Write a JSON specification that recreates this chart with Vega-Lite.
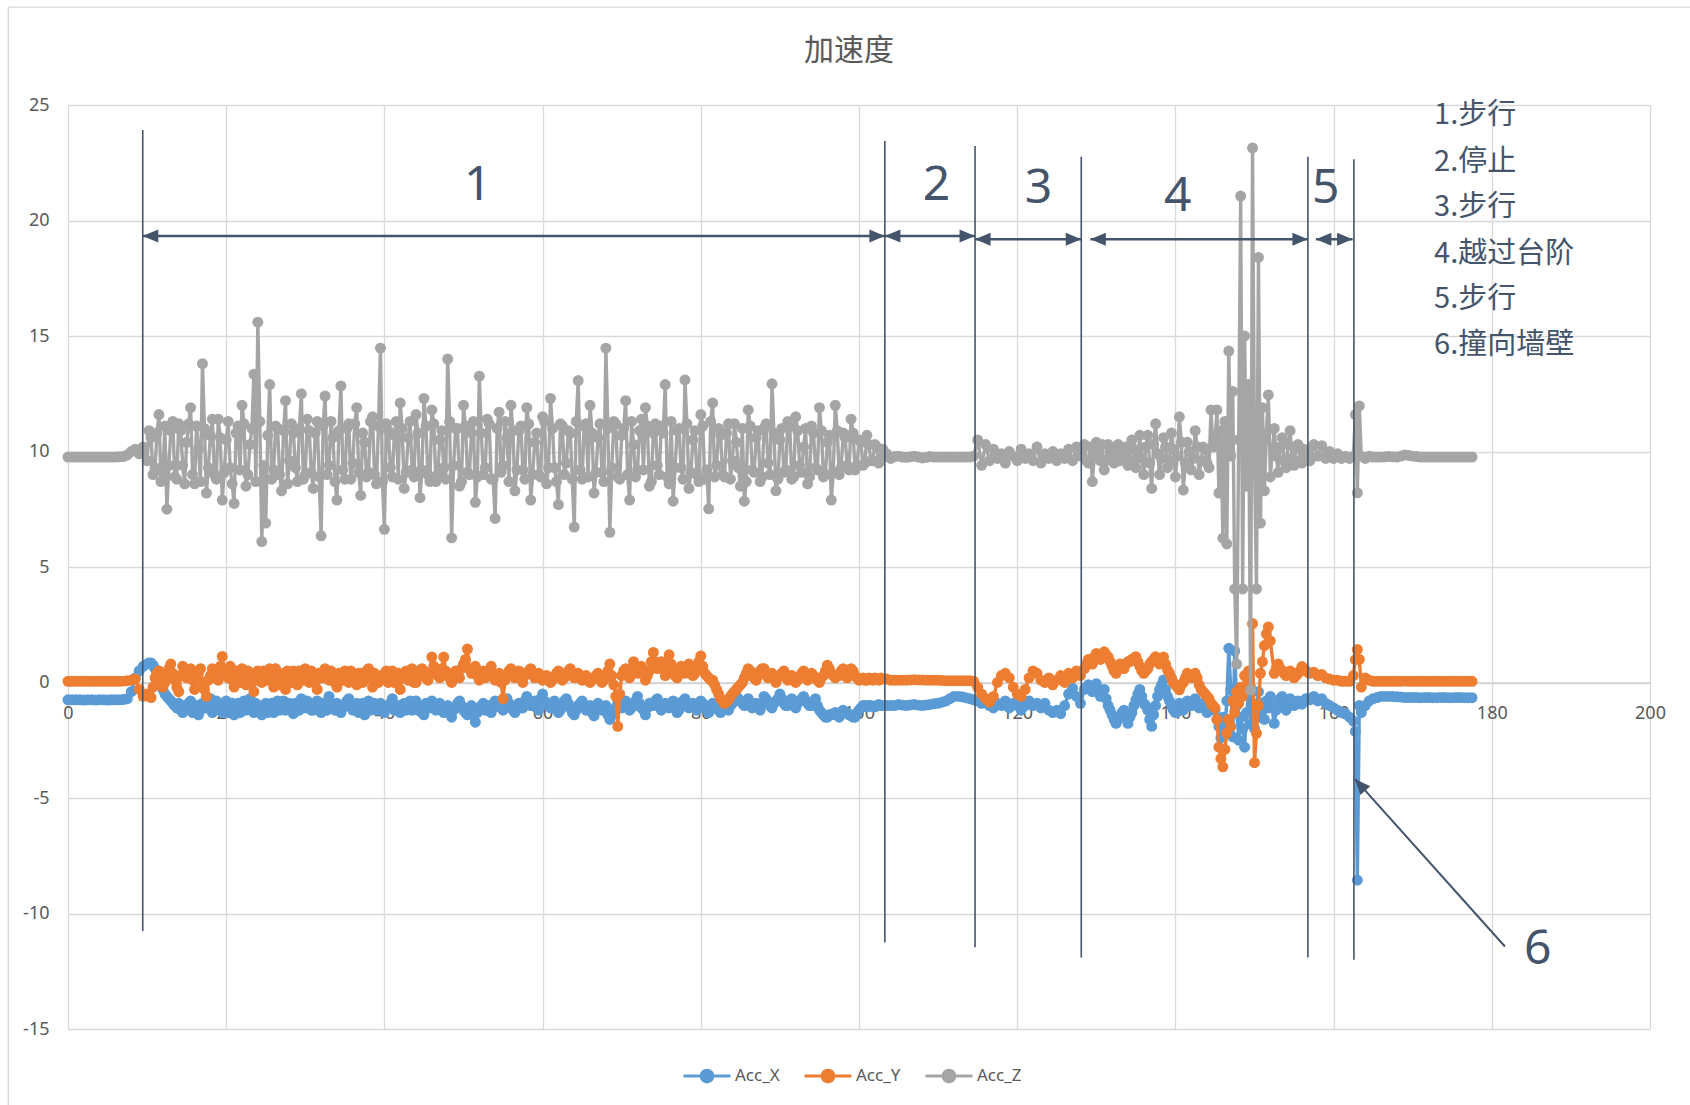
{
"$schema":"https://vega.github.io/schema/vega-lite/v6.json",
"width":1582,"height":924,
"autosize":{"type":"none"},
"padding":{"left":68,"top":105,"right":40,"bottom":76},
"background":"white",
"config":{"view":{"stroke":null},"font":"Noto Sans"},
"title":{"text":"加速度","font":"Noto Sans CJK SC","fontSize":30,"fontWeight":"normal","color":"#595959","anchor":"middle","frame":"group","offset":-60,"dx":-10},
"datasets":{
"acc":[
{"t":0,"X":-0.75,"Y":0.05,"Z":9.76},{"t":1,"X":-0.75,"Y":0.05,"Z":9.76},{"t":2,"X":-0.76,"Y":0.05,"Z":9.76},{"t":3,"X":-0.75,"Y":0.05,"Z":9.76},{"t":4,"X":-0.75,"Y":0.05,"Z":9.76},{"t":5,"X":-0.76,"Y":0.05,"Z":9.76},{"t":6,"X":-0.75,"Y":0.05,"Z":9.76},{"t":7,"X":-0.74,"Y":0.06,"Z":9.78},
{"t":7.5,"X":-0.7,"Y":0.08,"Z":9.85},{"t":8,"X":-0.4,"Y":0.1,"Z":10.0},{"t":8.5,"X":0.2,"Y":0.15,"Z":10.1},{"t":9,"X":0.5,"Y":-0.3,"Z":9.9},{"t":9.5,"X":0.7,"Y":-0.6,"Z":10.2},
{"t":10,"X":0.8,"Y":-0.5,"Z":9.6},{"t":10.5,"X":0.85,"Y":-0.65,"Z":10.6},{"t":11,"X":0.6,"Y":0.2,"Z":9.3},{"t":11.5,"X":0.1,"Y":0.5,"Z":11.6},{"t":12,"X":-0.3,"Y":-0.2,"Z":9.1},{"t":12.5,"X":-0.6,"Y":0.3,"Z":7.5},{"t":13,"X":-0.8,"Y":0.8,"Z":10.9},{"t":13.5,"X":-1.0,"Y":0.1,"Z":8.9},{"t":14,"X":-0.9,"Y":-0.4,"Z":11.2},{"t":14.5,"X":-1.3,"Y":0.7,"Z":9.4},
{"t":15,"X":-1.1,"Y":0.2,"Z":10.4},{"t":15.5,"X":-0.8,"Y":0.6,"Z":11.9},{"t":16,"X":-1.2,"Y":-0.3,"Z":8.6},{"t":16.5,"X":-1.4,"Y":0.4,"Z":10.1},{"t":17,"X":-0.9,"Y":0.0,"Z":13.8},{"t":17.5,"X":-1.1,"Y":-0.6,"Z":8.2},{"t":18,"X":-0.7,"Y":0.3,"Z":10.7},{"t":18.5,"X":-1.2,"Y":0.5,"Z":9.0},{"t":19,"X":-1.0,"Y":0.1,"Z":11.4},{"t":19.5,"X":-1.3,"Y":1.13,"Z":7.9},
{"t":20,"X":-0.8,"Y":0.4,"Z":10.5},{"t":20.5,"X":-1.1,"Y":0.7,"Z":9.3},{"t":21,"X":-1.4,"Y":-0.2,"Z":7.75},{"t":21.5,"X":-0.9,"Y":0.3,"Z":11.1},{"t":22,"X":-1.0,"Y":0.6,"Z":12.0},{"t":22.5,"X":-1.2,"Y":-0.1,"Z":8.5},{"t":23,"X":-0.7,"Y":0.2,"Z":10.3},{"t":23.5,"X":-1.3,"Y":-0.4,"Z":13.35},{"t":24,"X":-1.0,"Y":0.5,"Z":15.6},{"t":24.5,"X":-1.4,"Y":0.0,"Z":6.1},
{"t":25,"X":-0.9,"Y":0.3,"Z":6.9},{"t":25.5,"X":-1.1,"Y":0.6,"Z":12.9},{"t":26,"X":-1.3,"Y":-0.2,"Z":9.2},{"t":26.5,"X":-0.8,"Y":0.4,"Z":11.0},{"t":27,"X":-1.0,"Y":0.1,"Z":8.3},{"t":27.5,"X":-1.2,"Y":-0.3,"Z":12.2},{"t":28,"X":-0.9,"Y":0.2,"Z":9.6},{"t":28.5,"X":-1.35,"Y":0.5,"Z":10.8},{"t":29,"X":-1.0,"Y":-0.1,"Z":8.7},{"t":29.5,"X":-0.7,"Y":0.3,"Z":12.5},
{"t":30,"X":-1.1,"Y":0.6,"Z":9.0},{"t":30.5,"X":-0.9,"Y":0.0,"Z":10.9},{"t":31,"X":-1.2,"Y":0.4,"Z":8.4},{"t":31.5,"X":-0.8,"Y":-0.3,"Z":11.3},{"t":32,"X":-1.3,"Y":0.2,"Z":6.35},{"t":32.5,"X":-1.0,"Y":0.6,"Z":12.4},{"t":33,"X":-0.6,"Y":0.1,"Z":9.4},{"t":33.5,"X":-1.1,"Y":0.4,"Z":10.6},{"t":34,"X":-0.9,"Y":-0.2,"Z":7.9},{"t":34.5,"X":-1.3,"Y":0.3,"Z":12.84},
{"t":35,"X":-1.0,"Y":0.5,"Z":8.8},{"t":35.5,"X":-0.7,"Y":0.0,"Z":11.2},{"t":36,"X":-1.2,"Y":0.3,"Z":9.5},{"t":36.5,"X":-0.9,"Y":-0.1,"Z":11.9},{"t":37,"X":-1.1,"Y":0.4,"Z":8.1},{"t":37.5,"X":-1.4,"Y":0.2,"Z":10.4},{"t":38,"X":-0.8,"Y":0.6,"Z":9.1},{"t":38.5,"X":-1.0,"Y":-0.2,"Z":11.5},{"t":39,"X":-1.2,"Y":0.3,"Z":8.6},{"t":39.5,"X":-0.9,"Y":0.1,"Z":14.47},
{"t":40,"X":-1.3,"Y":0.4,"Z":6.63},{"t":40.5,"X":-1.0,"Y":0.0,"Z":10.9},{"t":41,"X":-0.7,"Y":0.5,"Z":8.9},{"t":41.5,"X":-1.1,"Y":0.2,"Z":11.3},{"t":42,"X":-1.3,"Y":-0.3,"Z":12.1},{"t":42.5,"X":-0.9,"Y":0.4,"Z":8.4},{"t":43,"X":-1.0,"Y":0.1,"Z":10.6},{"t":43.5,"X":-1.2,"Y":0.6,"Z":9.2},{"t":44,"X":-0.8,"Y":0.0,"Z":11.6},{"t":44.5,"X":-1.1,"Y":0.3,"Z":8.0},
{"t":45,"X":-1.4,"Y":0.5,"Z":12.3},{"t":45.5,"X":-1.0,"Y":0.1,"Z":9.0},{"t":46,"X":-0.8,"Y":1.1,"Z":11.8},{"t":46.5,"X":-1.2,"Y":0.6,"Z":8.7},{"t":47,"X":-0.9,"Y":0.2,"Z":10.5},{"t":47.5,"X":-1.3,"Y":1.1,"Z":9.3},{"t":48,"X":-1.0,"Y":0.4,"Z":14.0},{"t":48.5,"X":-1.5,"Y":0.0,"Z":6.26},{"t":49,"X":-1.1,"Y":0.5,"Z":11.0},{"t":49.5,"X":-0.8,"Y":0.2,"Z":8.5},
{"t":50,"X":-1.2,"Y":0.8,"Z":12.0},{"t":50.5,"X":-1.4,"Y":1.45,"Z":9.1},{"t":51,"X":-1.0,"Y":0.4,"Z":10.8},{"t":51.5,"X":-1.72,"Y":0.7,"Z":7.8},{"t":52,"X":-1.2,"Y":0.1,"Z":13.26},{"t":52.5,"X":-0.9,"Y":0.5,"Z":9.0},{"t":53,"X":-1.1,"Y":0.3,"Z":11.4},{"t":53.5,"X":-1.3,"Y":0.7,"Z":8.8},{"t":54,"X":-0.8,"Y":0.1,"Z":7.1},{"t":54.5,"X":-1.0,"Y":0.4,"Z":11.7},
{"t":55,"X":-1.2,"Y":-0.7,"Z":9.4},{"t":55.5,"X":-0.7,"Y":0.3,"Z":10.6},{"t":56,"X":-1.0,"Y":0.6,"Z":12.0},{"t":56.5,"X":-1.3,"Y":0.2,"Z":8.3},{"t":57,"X":-0.9,"Y":0.5,"Z":10.9},{"t":57.5,"X":-1.1,"Y":0.0,"Z":9.2},{"t":58,"X":-0.6,"Y":0.4,"Z":11.9},{"t":58.5,"X":-1.0,"Y":0.6,"Z":7.9},{"t":59,"X":-0.8,"Y":0.2,"Z":10.4},{"t":59.5,"X":-1.2,"Y":0.4,"Z":9.0},
{"t":60,"X":-0.5,"Y":0.1,"Z":11.5},{"t":60.5,"X":-0.9,"Y":0.3,"Z":8.6},{"t":61,"X":-1.1,"Y":0.0,"Z":12.3},{"t":61.5,"X":-0.8,"Y":0.2,"Z":9.3},{"t":62,"X":-1.3,"Y":0.5,"Z":7.7},{"t":62.5,"X":-1.0,"Y":0.1,"Z":11.1},{"t":63,"X":-0.7,"Y":0.3,"Z":9.5},{"t":63.5,"X":-1.1,"Y":0.6,"Z":10.8},{"t":64,"X":-1.4,"Y":0.2,"Z":6.73},{"t":64.5,"X":-1.0,"Y":0.4,"Z":13.07},
{"t":65,"X":-0.8,"Y":0.1,"Z":8.8},{"t":65.5,"X":-1.2,"Y":0.3,"Z":11.2},{"t":66,"X":-1.0,"Y":0.0,"Z":12.0},{"t":66.5,"X":-1.45,"Y":0.2,"Z":8.2},{"t":67,"X":-0.9,"Y":0.4,"Z":10.6},{"t":67.5,"X":-1.2,"Y":0.0,"Z":9.1},{"t":68,"X":-1.0,"Y":0.2,"Z":14.47},{"t":68.5,"X":-1.6,"Y":0.8,"Z":6.5},{"t":69,"X":-1.3,"Y":-0.1,"Z":11.3},{"t":69.5,"X":-0.9,"Y":-1.9,"Z":8.9},
{"t":70,"X":-1.1,"Y":0.3,"Z":10.7},{"t":70.5,"X":-0.8,"Y":0.6,"Z":12.2},{"t":71,"X":-1.2,"Y":0.2,"Z":7.9},{"t":71.5,"X":-1.0,"Y":0.9,"Z":10.3},{"t":72,"X":-0.6,"Y":0.4,"Z":9.2},{"t":72.5,"X":-1.1,"Y":0.7,"Z":11.4},{"t":73,"X":-1.4,"Y":0.1,"Z":11.9},{"t":73.5,"X":-0.9,"Y":0.5,"Z":8.5},{"t":74,"X":-1.0,"Y":1.3,"Z":10.8},{"t":74.5,"X":-0.7,"Y":0.6,"Z":9.4},
{"t":75,"X":-1.2,"Y":0.9,"Z":11.1},{"t":75.5,"X":-0.9,"Y":0.3,"Z":12.9},{"t":76,"X":-1.1,"Y":1.2,"Z":8.6},{"t":76.5,"X":-0.8,"Y":0.5,"Z":7.85},{"t":77,"X":-1.3,"Y":0.2,"Z":10.9},{"t":77.5,"X":-1.0,"Y":0.7,"Z":9.3},{"t":78,"X":-0.7,"Y":0.4,"Z":13.1},{"t":78.5,"X":-1.1,"Y":0.8,"Z":8.4},{"t":79,"X":-0.9,"Y":0.3,"Z":10.5},{"t":79.5,"X":-1.2,"Y":0.6,"Z":9.0},
{"t":80,"X":-0.8,"Y":1.15,"Z":11.6},{"t":80.5,"X":-1.0,"Y":0.4,"Z":8.8},{"t":81,"X":-1.3,"Y":0.2,"Z":7.52},{"t":81.5,"X":-0.9,"Y":0.1,"Z":12.1},{"t":82,"X":-1.1,"Y":-0.3,"Z":9.4},{"t":82.5,"X":-1.3,"Y":-0.7,"Z":10.7},{"t":83,"X":-1.0,"Y":-0.9,"Z":8.9},{"t":83.5,"X":-1.2,"Y":-0.75,"Z":11.2},{"t":84,"X":-0.9,"Y":-0.5,"Z":9.6},{"t":84.5,"X":-0.6,"Y":-0.3,"Z":10.4},
{"t":85,"X":-0.8,"Y":-0.1,"Z":8.5},{"t":85.5,"X":-1.0,"Y":0.2,"Z":7.85},{"t":86,"X":-0.7,"Y":0.6,"Z":11.8},{"t":86.5,"X":-1.1,"Y":0.3,"Z":9.2},{"t":87,"X":-0.9,"Y":0.1,"Z":10.6},{"t":87.5,"X":-1.2,"Y":0.5,"Z":8.7},{"t":88,"X":-0.6,"Y":0.6,"Z":11.0},{"t":88.5,"X":-0.9,"Y":0.2,"Z":9.5},{"t":89,"X":-1.1,"Y":0.4,"Z":12.93},{"t":89.5,"X":-0.8,"Y":0.0,"Z":8.3},
{"t":90,"X":-0.5,"Y":0.3,"Z":10.5},{"t":90.5,"X":-0.9,"Y":0.5,"Z":9.1},{"t":91,"X":-1.0,"Y":0.1,"Z":11.3},{"t":91.5,"X":-0.7,"Y":0.3,"Z":8.8},{"t":92,"X":-1.1,"Y":0.0,"Z":11.5},{"t":92.5,"X":-0.8,"Y":0.2,"Z":9.4},{"t":93,"X":-0.6,"Y":0.5,"Z":10.2},{"t":93.5,"X":-0.9,"Y":0.1,"Z":8.6},{"t":94,"X":-1.0,"Y":0.4,"Z":11.1},{"t":94.5,"X":-0.7,"Y":0.2,"Z":9.3},
{"t":95,"X":-1.2,"Y":0.0,"Z":11.9},{"t":95.5,"X":-1.4,"Y":0.3,"Z":8.9},{"t":96,"X":-1.5,"Y":0.75,"Z":10.4},{"t":96.5,"X":-1.4,"Y":0.4,"Z":7.9},{"t":97,"X":-1.3,"Y":0.2,"Z":12.0},{"t":97.5,"X":-1.5,"Y":0.3,"Z":9.0},{"t":98,"X":-1.2,"Y":0.6,"Z":10.8},{"t":98.5,"X":-1.3,"Y":0.2,"Z":9.4},{"t":99,"X":-1.45,"Y":0.6,"Z":11.4},{"t":99.5,"X":-1.5,"Y":0.3,"Z":9.2},
{"t":100,"X":-1.2,"Y":0.1,"Z":10.5},{"t":100.5,"X":-1.0,"Y":0.2,"Z":9.4},{"t":101,"X":-1.05,"Y":0.1,"Z":10.7},{"t":101.5,"X":-1.0,"Y":0.15,"Z":9.6},{"t":102,"X":-1.05,"Y":0.2,"Z":10.3},{"t":102.5,"X":-0.95,"Y":0.1,"Z":9.5},{"t":103,"X":-1.0,"Y":0.15,"Z":10.1},
{"t":103.5,"X":-1.0,"Y":0.15,"Z":9.9},{"t":104,"X":-1.0,"Y":0.1,"Z":9.7},{"t":105,"X":-0.95,"Y":0.1,"Z":9.8},{"t":106,"X":-1.0,"Y":0.1,"Z":9.75},{"t":107,"X":-0.95,"Y":0.12,"Z":9.8},{"t":108,"X":-1.0,"Y":0.11,"Z":9.72},{"t":109,"X":-0.95,"Y":0.1,"Z":9.78},{"t":110,"X":-0.9,"Y":0.1,"Z":9.76},{"t":111,"X":-0.8,"Y":0.08,"Z":9.76},{"t":112,"X":-0.6,"Y":0.08,"Z":9.76},{"t":113,"X":-0.62,"Y":0.08,"Z":9.76},{"t":114,"X":-0.7,"Y":0.08,"Z":9.76},{"t":114.5,"X":-0.75,"Y":0.05,"Z":9.8},
{"t":115,"X":-0.8,"Y":-0.2,"Z":10.5},{"t":115.5,"X":-0.9,"Y":-0.5,"Z":9.4},{"t":116,"X":-0.7,"Y":-0.7,"Z":10.3},{"t":116.5,"X":-1.0,"Y":-0.85,"Z":9.6},{"t":117,"X":-1.1,"Y":-0.6,"Z":10.1},{"t":117.5,"X":-0.9,"Y":0.0,"Z":9.7},{"t":118,"X":-1.0,"Y":0.3,"Z":9.9},{"t":118.5,"X":-0.8,"Y":0.4,"Z":9.5},{"t":119,"X":-1.1,"Y":0.2,"Z":10.0},{"t":119.5,"X":-0.9,"Y":-0.2,"Z":9.8},
{"t":120,"X":-1.0,"Y":-0.5,"Z":9.6},{"t":120.5,"X":-1.2,"Y":-0.6,"Z":10.1},{"t":121,"X":-1.0,"Y":-0.3,"Z":9.7},{"t":121.5,"X":-0.8,"Y":0.2,"Z":9.9},{"t":122,"X":-1.0,"Y":0.5,"Z":9.6},{"t":122.5,"X":-0.9,"Y":0.4,"Z":10.2},{"t":123,"X":-1.1,"Y":0.1,"Z":9.5},{"t":123.5,"X":-0.9,"Y":0.0,"Z":9.9},{"t":124,"X":-1.2,"Y":0.2,"Z":9.7},{"t":124.5,"X":-1.3,"Y":-0.1,"Z":10.0},
{"t":125,"X":-1.2,"Y":0.1,"Z":9.6},{"t":125.5,"X":-1.35,"Y":0.3,"Z":9.9},{"t":126,"X":-1.0,"Y":0.0,"Z":9.7},{"t":126.5,"X":-0.5,"Y":0.4,"Z":10.1},{"t":127,"X":-0.25,"Y":0.2,"Z":9.6},{"t":127.5,"X":-0.6,"Y":0.5,"Z":10.2},{"t":128,"X":-0.9,"Y":0.3,"Z":9.8},
{"t":128.5,"X":-0.3,"Y":0.6,"Z":10.3},{"t":129,"X":-0.1,"Y":1.0,"Z":9.5},{"t":129.5,"X":-0.4,"Y":0.8,"Z":8.7},{"t":130,"X":-0.05,"Y":1.26,"Z":10.4},{"t":130.5,"X":-0.6,"Y":1.0,"Z":9.6},{"t":131,"X":-0.3,"Y":1.33,"Z":9.2},{"t":131.5,"X":-1.0,"Y":1.1,"Z":10.3},{"t":132,"X":-1.4,"Y":0.7,"Z":9.7},{"t":132.5,"X":-1.77,"Y":0.4,"Z":10.1},{"t":133,"X":-1.5,"Y":0.8,"Z":9.6},
{"t":133.5,"X":-1.2,"Y":0.6,"Z":9.9},{"t":134,"X":-1.77,"Y":0.9,"Z":9.4},{"t":134.5,"X":-1.3,"Y":1.0,"Z":10.5},{"t":135,"X":-0.75,"Y":1.12,"Z":9.3},{"t":135.5,"X":-0.3,"Y":0.7,"Z":10.7},{"t":136,"X":-0.9,"Y":0.4,"Z":9.0},{"t":136.5,"X":-1.2,"Y":0.6,"Z":10.7},{"t":137,"X":-1.9,"Y":0.9,"Z":8.4},{"t":137.5,"X":-1.0,"Y":1.12,"Z":11.2},{"t":138,"X":-0.3,"Y":0.8,"Z":9.0},
{"t":138.5,"X":0.11,"Y":1.1,"Z":10.6},{"t":139,"X":-0.6,"Y":0.55,"Z":9.3},{"t":139.5,"X":-1.0,"Y":0.2,"Z":10.8},{"t":140,"X":-1.3,"Y":-0.1,"Z":8.9},{"t":140.5,"X":-0.9,"Y":-0.32,"Z":11.5},{"t":141,"X":-1.2,"Y":0.0,"Z":8.33},{"t":141.5,"X":-0.8,"Y":0.4,"Z":10.4},{"t":142,"X":-1.0,"Y":0.2,"Z":9.2},{"t":142.5,"X":-0.7,"Y":0.4,"Z":10.9},{"t":143,"X":-1.1,"Y":-0.1,"Z":9.0},
{"t":143.5,"X":-0.9,"Y":-0.4,"Z":10.2},{"t":144,"X":-1.3,"Y":-0.6,"Z":9.5},{"t":144.5,"X":-1.0,"Y":-0.9,"Z":11.8},
{"t":145,"X":-1.2,"Y":-1.1,"Z":10.4},{"t":145.25,"X":-1.6,"Y":-1.6,"Z":11.8},{"t":145.5,"X":-1.9,"Y":-2.8,"Z":8.2},{"t":145.75,"X":-2.4,"Y":-3.3,"Z":10.9},{"t":146,"X":-1.5,"Y":-3.65,"Z":6.25},{"t":146.25,"X":-2.1,"Y":-2.9,"Z":11.3},{"t":146.5,"X":-0.8,"Y":-2.2,"Z":6.0},{"t":146.75,"X":1.48,"Y":-1.6,"Z":14.35},{"t":147,"X":-0.3,"Y":-1.9,"Z":9.8},{"t":147.25,"X":-2.35,"Y":-0.8,"Z":12.6},
{"t":147.5,"X":1.36,"Y":-1.3,"Z":4.05},{"t":147.75,"X":-1.0,"Y":-0.4,"Z":0.8},{"t":148,"X":-2.5,"Y":-0.9,"Z":10.5},{"t":148.25,"X":-1.5,"Y":-0.2,"Z":21.06},{"t":148.5,"X":-2.0,"Y":-0.6,"Z":4.05},{"t":148.75,"X":-2.8,"Y":0.3,"Z":15.0},{"t":149,"X":-1.3,"Y":-0.3,"Z":8.5},{"t":149.25,"X":-0.5,"Y":0.5,"Z":12.9},{"t":149.5,"X":-1.8,"Y":-0.2,"Z":-0.32},{"t":149.75,"X":-0.9,"Y":2.55,"Z":23.14},
{"t":150,"X":-2.0,"Y":-3.47,"Z":9.6},{"t":150.25,"X":-1.2,"Y":-2.2,"Z":4.05},{"t":150.5,"X":-0.4,"Y":-1.0,"Z":18.4},{"t":150.75,"X":-1.5,"Y":0.4,"Z":6.9},{"t":151,"X":-0.9,"Y":0.9,"Z":11.9},{"t":151.25,"X":-1.6,"Y":1.6,"Z":8.3},{"t":151.5,"X":-0.8,"Y":2.1,"Z":10.8},{"t":151.75,"X":-1.1,"Y":2.4,"Z":12.45},{"t":152,"X":-0.6,"Y":1.8,"Z":8.9},
{"t":152.5,"X":-1.77,"Y":0.4,"Z":11.0},{"t":153,"X":-0.9,"Y":0.8,"Z":9.1},{"t":153.5,"X":-0.6,"Y":0.5,"Z":10.6},{"t":154,"X":-1.2,"Y":0.3,"Z":9.3},{"t":154.5,"X":-0.7,"Y":0.5,"Z":10.9},{"t":155,"X":-1.0,"Y":0.2,"Z":9.4},{"t":155.5,"X":-0.8,"Y":0.4,"Z":10.3},{"t":156,"X":-0.94,"Y":0.69,"Z":9.5},{"t":156.5,"X":-0.7,"Y":0.5,"Z":10.0},{"t":157,"X":-0.75,"Y":0.4,"Z":9.6},
{"t":157.5,"X":-0.6,"Y":0.45,"Z":10.3},{"t":158,"X":-0.8,"Y":0.3,"Z":9.8},{"t":158.5,"X":-0.7,"Y":0.35,"Z":10.25},{"t":159,"X":-0.9,"Y":0.2,"Z":9.7},{"t":159.5,"X":-1.0,"Y":0.15,"Z":10.0},{"t":160,"X":-1.1,"Y":0.1,"Z":9.7},{"t":160.5,"X":-1.2,"Y":0.1,"Z":9.9},{"t":161,"X":-1.3,"Y":0.05,"Z":9.7},{"t":161.5,"X":-1.35,"Y":0.05,"Z":9.8},{"t":162,"X":-1.5,"Y":0.05,"Z":9.7},
{"t":162.5,"X":-1.67,"Y":0.3,"Z":9.8},{"t":162.75,"X":-2.12,"Y":0.99,"Z":11.6},{"t":163,"X":-8.56,"Y":1.43,"Z":8.21},{"t":163.25,"X":-1.0,"Y":1.0,"Z":11.97},{"t":163.5,"X":-1.3,"Y":-0.2,"Z":9.8},{"t":164,"X":-1.0,"Y":0.2,"Z":9.7},{"t":164.5,"X":-0.8,"Y":0.1,"Z":9.8},{"t":165,"X":-0.7,"Y":0.05,"Z":9.76},{"t":165.5,"X":-0.65,"Y":0.05,"Z":9.76},
{"t":166,"X":-0.6,"Y":0.05,"Z":9.76},{"t":167,"X":-0.6,"Y":0.05,"Z":9.78},{"t":168,"X":-0.62,"Y":0.05,"Z":9.76},{"t":169,"X":-0.65,"Y":0.06,"Z":9.85},{"t":170,"X":-0.65,"Y":0.05,"Z":9.8},{"t":171,"X":-0.66,"Y":0.05,"Z":9.76},{"t":172,"X":-0.65,"Y":0.05,"Z":9.76},{"t":173,"X":-0.66,"Y":0.05,"Z":9.76},{"t":174,"X":-0.65,"Y":0.05,"Z":9.76},{"t":175,"X":-0.66,"Y":0.05,"Z":9.76},{"t":176,"X":-0.65,"Y":0.05,"Z":9.76},{"t":177,"X":-0.66,"Y":0.05,"Z":9.76},{"t":177.5,"X":-0.66,"Y":0.05,"Z":9.76},
{"t":0.5,"X":-0.75,"Y":0.05,"Z":9.76},{"t":1.5,"X":-0.75,"Y":0.05,"Z":9.76},{"t":2.5,"X":-0.75,"Y":0.05,"Z":9.76},{"t":3.5,"X":-0.76,"Y":0.05,"Z":9.76},{"t":4.5,"X":-0.75,"Y":0.05,"Z":9.76},{"t":5.5,"X":-0.75,"Y":0.05,"Z":9.76},{"t":6.5,"X":-0.75,"Y":0.05,"Z":9.77},
{"t":104.5,"X":-1.0,"Y":0.1,"Z":9.78},{"t":105.5,"X":-0.98,"Y":0.1,"Z":9.76},{"t":106.5,"X":-0.97,"Y":0.11,"Z":9.77},{"t":107.5,"X":-0.98,"Y":0.11,"Z":9.76},{"t":108.5,"X":-0.97,"Y":0.1,"Z":9.75},{"t":109.5,"X":-0.92,"Y":0.1,"Z":9.76},{"t":110.5,"X":-0.85,"Y":0.09,"Z":9.76},{"t":111.5,"X":-0.7,"Y":0.08,"Z":9.76},{"t":112.5,"X":-0.6,"Y":0.08,"Z":9.76},{"t":113.5,"X":-0.66,"Y":0.08,"Z":9.76},
{"t":166.5,"X":-0.6,"Y":0.05,"Z":9.77},{"t":167.5,"X":-0.61,"Y":0.05,"Z":9.77},{"t":168.5,"X":-0.63,"Y":0.05,"Z":9.8},{"t":169.5,"X":-0.65,"Y":0.05,"Z":9.83},{"t":170.5,"X":-0.65,"Y":0.05,"Z":9.78},{"t":171.5,"X":-0.65,"Y":0.05,"Z":9.76},{"t":172.5,"X":-0.66,"Y":0.05,"Z":9.76},{"t":173.5,"X":-0.65,"Y":0.05,"Z":9.76},{"t":174.5,"X":-0.66,"Y":0.05,"Z":9.76},{"t":175.5,"X":-0.65,"Y":0.05,"Z":9.76},{"t":176.5,"X":-0.66,"Y":0.05,"Z":9.76},
{"t":10.25,"X":0.85,"Y":-0.6,"Z":10.9},{"t":10.75,"X":0.75,"Y":-0.2,"Z":9.0},{"t":11.25,"X":0.35,"Y":0.4,"Z":10.8},{"t":11.75,"X":-0.1,"Y":0.1,"Z":8.7},{"t":12.25,"X":-0.5,"Y":0.0,"Z":11.1},{"t":12.75,"X":-0.7,"Y":0.6,"Z":9.4},{"t":13.25,"X":-0.9,"Y":0.4,"Z":11.3},{"t":13.75,"X":-1.1,"Y":-0.2,"Z":8.8},{"t":14.25,"X":-1.2,"Y":0.3,"Z":10.9},{"t":14.75,"X":-1.0,"Y":0.5,"Z":8.6},
{"t":15.25,"X":-0.9,"Y":0.4,"Z":11.2},{"t":15.75,"X":-1.3,"Y":0.1,"Z":9.0},{"t":16.25,"X":-1.0,"Y":0.2,"Z":11.1},{"t":16.75,"X":-1.2,"Y":0.6,"Z":8.7},{"t":17.25,"X":-1.0,"Y":-0.3,"Z":11.0},{"t":17.75,"X":-0.9,"Y":0.1,"Z":9.3},{"t":18.25,"X":-1.3,"Y":0.6,"Z":11.4},{"t":18.75,"X":-0.8,"Y":0.2,"Z":8.8},{"t":19.25,"X":-1.1,"Y":0.7,"Z":10.6},{"t":19.75,"X":-1.0,"Y":0.6,"Z":9.1},
{"t":20.25,"X":-1.3,"Y":0.2,"Z":11.3},{"t":20.75,"X":-0.9,"Y":0.1,"Z":8.6},{"t":21.25,"X":-1.2,"Y":0.5,"Z":10.8},{"t":21.75,"X":-1.3,"Y":0.0,"Z":9.2},{"t":22.25,"X":-0.8,"Y":0.4,"Z":11.2},{"t":22.75,"X":-1.0,"Y":0.5,"Z":9.0},{"t":23.25,"X":-1.2,"Y":0.0,"Z":11.0},{"t":23.75,"X":-0.9,"Y":0.2,"Z":8.7},{"t":24.25,"X":-1.2,"Y":0.3,"Z":11.3},{"t":24.75,"X":-1.1,"Y":0.5,"Z":9.4},
{"t":25.25,"X":-1.3,"Y":0.1,"Z":10.7},{"t":25.75,"X":-0.9,"Y":0.3,"Z":8.8},{"t":26.25,"X":-1.1,"Y":0.6,"Z":11.1},{"t":26.75,"X":-1.2,"Y":-0.1,"Z":9.0},{"t":27.25,"X":-0.8,"Y":0.4,"Z":10.9},{"t":27.75,"X":-1.1,"Y":0.5,"Z":8.6},{"t":28.25,"X":-1.2,"Y":0.0,"Z":11.2},{"t":28.75,"X":-0.9,"Y":0.2,"Z":9.3},{"t":29.25,"X":-1.2,"Y":0.5,"Z":11.0},{"t":29.75,"X":-1.0,"Y":0.1,"Z":8.8},
{"t":30.25,"X":-0.8,"Y":0.3,"Z":11.4},{"t":30.75,"X":-1.2,"Y":0.5,"Z":9.1},{"t":31.25,"X":-1.0,"Y":0.0,"Z":10.8},{"t":31.75,"X":-1.1,"Y":0.4,"Z":8.9},{"t":32.25,"X":-0.9,"Y":0.2,"Z":11.1},{"t":32.75,"X":-1.2,"Y":0.3,"Z":9.0},{"t":33.25,"X":-0.9,"Y":0.5,"Z":11.3},{"t":33.75,"X":-1.2,"Y":0.0,"Z":8.7},{"t":34.25,"X":-1.0,"Y":0.4,"Z":10.9},{"t":34.75,"X":-1.1,"Y":0.1,"Z":9.2},
{"t":35.25,"X":-0.8,"Y":0.3,"Z":11.0},{"t":35.75,"X":-1.0,"Y":0.5,"Z":8.8},{"t":36.25,"X":-1.1,"Y":0.1,"Z":11.2},{"t":36.75,"X":-1.3,"Y":0.4,"Z":9.1},{"t":37.25,"X":-0.9,"Y":0.0,"Z":10.8},{"t":37.75,"X":-1.1,"Y":0.5,"Z":8.9},{"t":38.25,"X":-1.2,"Y":0.2,"Z":11.3},{"t":38.75,"X":-0.9,"Y":0.4,"Z":9.0},{"t":39.25,"X":-1.1,"Y":0.0,"Z":11.1},{"t":39.75,"X":-1.0,"Y":0.3,"Z":8.7},
{"t":40.25,"X":-1.1,"Y":0.5,"Z":11.2},{"t":40.75,"X":-0.9,"Y":0.2,"Z":9.3},{"t":41.25,"X":-1.2,"Y":0.0,"Z":10.7},{"t":41.75,"X":-1.0,"Y":0.4,"Z":8.8},{"t":42.25,"X":-1.1,"Y":0.2,"Z":11.0},{"t":42.75,"X":-1.2,"Y":0.5,"Z":9.1},{"t":43.25,"X":-0.8,"Y":0.3,"Z":11.3},{"t":43.75,"X":-1.0,"Y":0.0,"Z":8.9},{"t":44.25,"X":-1.2,"Y":0.4,"Z":10.8},{"t":44.75,"X":-1.3,"Y":0.6,"Z":9.2},
{"t":45.25,"X":-0.9,"Y":0.2,"Z":11.1},{"t":45.75,"X":-1.1,"Y":0.4,"Z":8.7},{"t":46.25,"X":-1.0,"Y":0.7,"Z":11.2},{"t":46.75,"X":-1.1,"Y":0.3,"Z":9.0},{"t":47.25,"X":-1.2,"Y":0.6,"Z":10.9},{"t":47.75,"X":-1.1,"Y":0.5,"Z":8.8},{"t":48.25,"X":-1.3,"Y":0.2,"Z":11.3},{"t":48.75,"X":-1.2,"Y":0.4,"Z":9.4},{"t":49.25,"X":-0.9,"Y":0.3,"Z":11.0},{"t":49.75,"X":-1.0,"Y":0.6,"Z":8.7},
{"t":50.25,"X":-1.3,"Y":1.0,"Z":11.1},{"t":50.75,"X":-1.1,"Y":0.6,"Z":9.0},{"t":51.25,"X":-1.4,"Y":0.5,"Z":11.3},{"t":51.75,"X":-1.3,"Y":0.3,"Z":8.9},{"t":52.25,"X":-1.0,"Y":0.4,"Z":10.8},{"t":52.75,"X":-1.2,"Y":0.2,"Z":9.3},{"t":53.25,"X":-1.0,"Y":0.5,"Z":11.2},{"t":53.75,"X":-1.1,"Y":0.3,"Z":8.8},{"t":54.25,"X":-0.9,"Y":0.2,"Z":11.0},{"t":54.75,"X":-1.1,"Y":0.0,"Z":9.1},
{"t":55.25,"X":-1.0,"Y":0.1,"Z":11.3},{"t":55.75,"X":-0.9,"Y":0.5,"Z":8.7},{"t":56.25,"X":-1.2,"Y":0.4,"Z":10.9},{"t":56.75,"X":-1.0,"Y":0.3,"Z":9.2},{"t":57.25,"X":-1.1,"Y":0.2,"Z":11.1},{"t":57.75,"X":-0.8,"Y":0.3,"Z":8.8},{"t":58.25,"X":-0.9,"Y":0.5,"Z":11.2},{"t":58.75,"X":-1.0,"Y":0.4,"Z":9.0},{"t":59.25,"X":-1.1,"Y":0.3,"Z":10.8},{"t":59.75,"X":-0.7,"Y":0.2,"Z":8.9},
{"t":60.25,"X":-0.8,"Y":0.2,"Z":11.3},{"t":60.75,"X":-1.0,"Y":0.1,"Z":9.3},{"t":61.25,"X":-1.0,"Y":0.1,"Z":11.0},{"t":61.75,"X":-1.1,"Y":0.4,"Z":8.7},{"t":62.25,"X":-1.2,"Y":0.3,"Z":11.2},{"t":62.75,"X":-0.8,"Y":0.2,"Z":9.0},{"t":63.25,"X":-0.9,"Y":0.5,"Z":10.9},{"t":63.75,"X":-1.3,"Y":0.4,"Z":8.8},{"t":64.25,"X":-1.2,"Y":0.3,"Z":11.3},{"t":64.75,"X":-0.9,"Y":0.2,"Z":9.2},
{"t":65.25,"X":-1.0,"Y":0.2,"Z":11.1},{"t":65.75,"X":-1.1,"Y":0.1,"Z":8.9},{"t":66.25,"X":-1.3,"Y":0.1,"Z":10.8},{"t":66.75,"X":-1.1,"Y":0.3,"Z":9.1},{"t":67.25,"X":-1.0,"Y":0.2,"Z":11.2},{"t":67.75,"X":-1.1,"Y":0.1,"Z":8.7},{"t":68.25,"X":-1.4,"Y":0.5,"Z":11.0},{"t":68.75,"X":-1.4,"Y":0.3,"Z":9.3},{"t":69.25,"X":-1.1,"Y":-0.6,"Z":11.2},{"t":69.75,"X":-1.0,"Y":-0.5,"Z":8.8},
{"t":70.25,"X":-0.9,"Y":0.5,"Z":11.0},{"t":70.75,"X":-1.0,"Y":0.4,"Z":9.0},{"t":71.25,"X":-1.1,"Y":0.6,"Z":11.3},{"t":71.75,"X":-0.8,"Y":0.7,"Z":8.9},{"t":72.25,"X":-0.9,"Y":0.5,"Z":10.9},{"t":72.75,"X":-1.2,"Y":0.4,"Z":9.2},{"t":73.25,"X":-1.1,"Y":0.3,"Z":11.1},{"t":73.75,"X":-1.0,"Y":0.9,"Z":8.7},{"t":74.25,"X":-0.8,"Y":0.9,"Z":11.2},{"t":74.75,"X":-1.0,"Y":0.7,"Z":9.0},
{"t":75.25,"X":-1.1,"Y":0.6,"Z":10.8},{"t":75.75,"X":-1.0,"Y":0.8,"Z":8.9},{"t":76.25,"X":-0.9,"Y":0.8,"Z":11.3},{"t":76.75,"X":-1.1,"Y":0.3,"Z":9.3},{"t":77.25,"X":-1.2,"Y":0.5,"Z":11.0},{"t":77.75,"X":-0.8,"Y":0.6,"Z":8.8},{"t":78.25,"X":-0.9,"Y":0.6,"Z":11.2},{"t":78.75,"X":-1.0,"Y":0.5,"Z":9.1},{"t":79.25,"X":-1.1,"Y":0.4,"Z":10.9},{"t":79.75,"X":-1.0,"Y":0.9,"Z":8.7},
{"t":80.25,"X":-0.9,"Y":0.7,"Z":11.1},{"t":80.75,"X":-1.2,"Y":0.3,"Z":9.2},{"t":81.25,"X":-1.1,"Y":0.1,"Z":11.3},{"t":81.75,"X":-1.0,"Y":-0.1,"Z":8.9},{"t":82.25,"X":-1.2,"Y":-0.5,"Z":11.0},{"t":82.75,"X":-1.1,"Y":-0.8,"Z":9.0},{"t":83.25,"X":-1.1,"Y":-0.85,"Z":10.8},{"t":83.75,"X":-1.0,"Y":-0.6,"Z":8.8},{"t":84.25,"X":-0.8,"Y":-0.4,"Z":11.2},{"t":84.75,"X":-0.7,"Y":-0.2,"Z":9.3},
{"t":85.25,"X":-0.9,"Y":0.0,"Z":11.0},{"t":85.75,"X":-0.8,"Y":0.4,"Z":8.7},{"t":86.25,"X":-0.9,"Y":0.5,"Z":11.1},{"t":86.75,"X":-1.0,"Y":0.2,"Z":9.1},{"t":87.25,"X":-1.0,"Y":0.3,"Z":10.9},{"t":87.75,"X":-0.9,"Y":0.6,"Z":8.9},{"t":88.25,"X":-0.7,"Y":0.4,"Z":11.2},{"t":88.75,"X":-1.0,"Y":0.3,"Z":9.0},{"t":89.25,"X":-0.9,"Y":0.2,"Z":10.8},{"t":89.75,"X":-0.7,"Y":0.2,"Z":8.8},
{"t":90.25,"X":-0.7,"Y":0.4,"Z":11.0},{"t":90.75,"X":-1.0,"Y":0.3,"Z":9.2},{"t":91.25,"X":-0.8,"Y":0.2,"Z":11.1},{"t":91.75,"X":-0.9,"Y":0.1,"Z":8.9},{"t":92.25,"X":-0.9,"Y":0.1,"Z":10.9},{"t":92.75,"X":-0.7,"Y":0.4,"Z":9.1},{"t":93.25,"X":-0.8,"Y":0.3,"Z":11.0},{"t":93.75,"X":-1.0,"Y":0.3,"Z":8.9},{"t":94.25,"X":-0.8,"Y":0.3,"Z":10.8},{"t":94.75,"X":-1.0,"Y":0.1,"Z":9.2},
{"t":95.25,"X":-1.3,"Y":0.2,"Z":10.9},{"t":95.75,"X":-1.5,"Y":0.5,"Z":9.0},{"t":96.25,"X":-1.4,"Y":0.6,"Z":10.7},{"t":96.75,"X":-1.35,"Y":0.3,"Z":9.1},{"t":97.25,"X":-1.4,"Y":0.3,"Z":10.9},{"t":97.75,"X":-1.3,"Y":0.5,"Z":9.3},{"t":98.25,"X":-1.3,"Y":0.4,"Z":10.6},{"t":98.75,"X":-1.4,"Y":0.4,"Z":9.2},{"t":99.25,"X":-1.5,"Y":0.5,"Z":10.8},{"t":99.75,"X":-1.3,"Y":0.2,"Z":9.4},
{"t":100.25,"X":-1.1,"Y":0.15,"Z":10.4},{"t":100.75,"X":-1.0,"Y":0.1,"Z":9.5},{"t":101.25,"X":-1.0,"Y":0.2,"Z":10.3},{"t":101.75,"X":-1.05,"Y":0.1,"Z":9.6},{"t":102.25,"X":-1.0,"Y":0.15,"Z":10.2},{"t":102.75,"X":-1.0,"Y":0.2,"Z":9.7},
{"t":128.75,"X":-0.2,"Y":0.8,"Z":9.6},{"t":129.25,"X":-0.3,"Y":0.9,"Z":10.2},{"t":129.75,"X":-0.2,"Y":1.1,"Z":9.8},{"t":130.25,"X":-0.4,"Y":1.1,"Z":9.9},{"t":130.75,"X":-0.5,"Y":1.2,"Z":10.3},{"t":131.25,"X":-0.7,"Y":1.2,"Z":9.6},{"t":131.75,"X":-1.2,"Y":0.9,"Z":10.0},{"t":132.25,"X":-1.6,"Y":0.5,"Z":9.5},{"t":132.75,"X":-1.6,"Y":0.6,"Z":10.3},{"t":133.25,"X":-1.3,"Y":0.7,"Z":9.8},
{"t":133.75,"X":-1.5,"Y":0.8,"Z":10.2},{"t":134.25,"X":-1.5,"Y":0.9,"Z":9.6},{"t":134.75,"X":-1.0,"Y":1.05,"Z":10.1},{"t":135.25,"X":-0.5,"Y":0.9,"Z":9.8},{"t":135.75,"X":-0.6,"Y":0.5,"Z":9.7},{"t":136.25,"X":-1.0,"Y":0.5,"Z":10.2},{"t":136.75,"X":-1.6,"Y":0.8,"Z":9.5},{"t":137.25,"X":-1.4,"Y":1.0,"Z":10.3},{"t":137.75,"X":-0.6,"Y":0.9,"Z":9.9},{"t":138.25,"X":-0.1,"Y":1.0,"Z":9.7},
{"t":138.75,"X":-0.3,"Y":0.8,"Z":10.2},{"t":139.25,"X":-0.8,"Y":0.4,"Z":9.6},{"t":139.75,"X":-1.2,"Y":0.0,"Z":10.1},{"t":140.25,"X":-1.1,"Y":-0.2,"Z":9.8},{"t":140.75,"X":-1.0,"Y":-0.1,"Z":10.4},{"t":141.25,"X":-1.0,"Y":0.2,"Z":9.5},{"t":141.75,"X":-0.9,"Y":0.3,"Z":10.0},{"t":142.25,"X":-0.8,"Y":0.3,"Z":9.7},{"t":142.75,"X":-0.9,"Y":0.2,"Z":10.2},{"t":143.25,"X":-1.0,"Y":-0.3,"Z":9.6},
{"t":143.75,"X":-1.1,"Y":-0.5,"Z":10.1},{"t":144.25,"X":-1.2,"Y":-0.7,"Z":9.3},{"t":144.75,"X":-1.1,"Y":-1.0,"Z":10.2},
{"t":152.75,"X":-1.2,"Y":0.6,"Z":9.8},{"t":153.25,"X":-0.7,"Y":0.6,"Z":10.2},{"t":153.75,"X":-0.9,"Y":0.4,"Z":9.6},{"t":154.25,"X":-0.9,"Y":0.4,"Z":10.3},{"t":154.75,"X":-0.8,"Y":0.4,"Z":9.7},{"t":155.25,"X":-0.9,"Y":0.3,"Z":10.2},{"t":155.75,"X":-0.9,"Y":0.5,"Z":9.6},{"t":156.25,"X":-0.8,"Y":0.6,"Z":10.1},{"t":156.75,"X":-0.7,"Y":0.45,"Z":9.8}
],
"vlines":[
{"x":9.45,"y1":23.92,"y2":-10.76},{"x":103.27,"y1":23.44,"y2":-11.25},{"x":114.67,"y1":23.23,"y2":-11.46},{"x":128.1,"y1":22.76,"y2":-11.91},{"x":156.75,"y1":22.76,"y2":-11.91},{"x":162.57,"y1":22.65,"y2":-12.0}
],
"arrows":[
{"x1":9.45,"x2":103.27,"y":19.33},{"x1":103.27,"x2":114.67,"y":19.33},{"x1":114.67,"x2":128.1,"y":19.19},{"x1":129.25,"x2":156.75,"y":19.19},{"x1":157.76,"x2":162.4,"y":19.19}
],
"diag":[{"x1":181.66,"y1":-11.43,"x2":162.7,"y2":-4.18}],
"nums":[
{"x":51.8,"y":21.5,"label":"1"},{"x":109.8,"y":21.5,"label":"2"},{"x":122.7,"y":21.35,"label":"3"},{"x":140.3,"y":21.0,"label":"4"},{"x":159.0,"y":21.35,"label":"5"},{"x":185.8,"y":-11.6,"label":"6"}
],
"notes":[
{"x":172.7,"y":24.55,"label":"1.步行"},{"x":172.7,"y":22.52,"label":"2.停止"},{"x":172.7,"y":20.57,"label":"3.步行"},{"x":172.7,"y":18.53,"label":"4.越过台阶"},{"x":172.7,"y":16.59,"label":"5.步行"},{"x":172.7,"y":14.6,"label":"6.撞向墙壁"}
]
},
"layer":[
{"data":{"name":"acc"},
 "mark":{"type":"line","strokeWidth":3.4,"point":{"filled":true,"size":120,"opacity":1}},
 "encoding":{
  "x":{"field":"t","type":"quantitative","scale":{"domain":[0,200],"nice":false,"zero":false},
       "axis":{"values":[0,20,40,60,80,100,120,140,160,180,200],"title":null,"grid":true,"gridColor":"#d9d9d9","gridWidth":1.3,"domain":true,"domainColor":"#d0d0d0","domainWidth":1.5,"ticks":false,"labelFont":"Noto Sans","labelFontSize":18,"labelColor":"#595959","labelPadding":22,"offset":-346.5,"labelFlush":false,"labelOverlap":false,"labelExpr":"'' + datum.value"}},
  "y":{"field":"X","type":"quantitative","scale":{"domain":[-15,25],"nice":false,"zero":false},
       "axis":{"values":[-15,-10,-5,0,5,10,15,20,25],"title":null,"grid":true,"gridColor":"#d9d9d9","gridWidth":1.3,"domain":false,"ticks":false,"labelFont":"Noto Sans","labelFontSize":18,"labelColor":"#595959","labelPadding":19,"labelFlush":false,"labelOverlap":false,"labelExpr":"'' + datum.value"}},
  "color":{"datum":"Acc_X","type":"nominal","scale":{"domain":["Acc_X","Acc_Y","Acc_Z"],"range":["#5B9BD5","#ED7D31","#A5A5A5"]},
       "legend":{"orient":"none","legendX":614,"legendY":946,"direction":"horizontal","title":null,"padding":0,
         "symbolType":"M-1,0H1M-0.25,0A0.25,0.25 0 1,1 0.25,0A0.25,0.25 0 1,1 -0.25,0","symbolSize":2209,"symbolStrokeWidth":3,"symbolOpacity":1,
         "labelFont":"Noto Sans","labelFontSize":17,"labelColor":"#595959","labelOffset":3,"columnPadding":18,
         "encode":{"symbols":{"update":{"fill":{"scale":"color","field":"value"},"stroke":{"scale":"color","field":"value"}}}}}}
 }},
{"data":{"name":"acc"},
 "mark":{"type":"line","strokeWidth":3.4,"point":{"filled":true,"size":120,"opacity":1}},
 "encoding":{
  "x":{"field":"t","type":"quantitative"},
  "y":{"field":"Y","type":"quantitative"},
  "color":{"datum":"Acc_Y","type":"nominal"}
 }},
{"data":{"name":"acc"},
 "mark":{"type":"line","strokeWidth":3.4,"point":{"filled":true,"size":120,"opacity":1}},
 "encoding":{
  "x":{"field":"t","type":"quantitative"},
  "y":{"field":"Z","type":"quantitative"},
  "color":{"datum":"Acc_Z","type":"nominal"}
 }},
{"data":{"values":[{}]},
 "mark":{"type":"rect","fillOpacity":0,"stroke":"#d9d9d9","strokeWidth":1.3},
 "encoding":{
  "x":{"datum":-7.55,"type":"quantitative"},"x2":{"datum":206},
  "y":{"datum":29.24,"type":"quantitative"},"y2":{"datum":-18.6}
 }},
{"data":{"name":"vlines"},
 "mark":{"type":"rule","color":"#44546A","strokeWidth":1.6},
 "encoding":{
  "x":{"field":"x","type":"quantitative"},
  "y":{"field":"y1","type":"quantitative"},
  "y2":{"field":"y2"}
 }},
{"data":{"name":"arrows"},
 "mark":{"type":"rule","color":"#44546A","strokeWidth":2.5},
 "encoding":{
  "x":{"field":"x1","type":"quantitative"},
  "x2":{"field":"x2"},
  "y":{"field":"y","type":"quantitative"}
 }},
{"data":{"name":"arrows"},
 "mark":{"type":"point","shape":"M0,0L2,-0.85L2,0.85Z","size":240,"filled":true,"color":"#44546A","opacity":1,"strokeWidth":0},
 "encoding":{
  "x":{"field":"x1","type":"quantitative"},
  "y":{"field":"y","type":"quantitative"}
 }},
{"data":{"name":"arrows"},
 "mark":{"type":"point","shape":"M0,0L-2,-0.85L-2,0.85Z","size":240,"filled":true,"color":"#44546A","opacity":1,"strokeWidth":0},
 "encoding":{
  "x":{"field":"x2","type":"quantitative"},
  "y":{"field":"y","type":"quantitative"}
 }},
{"data":{"name":"diag"},
 "mark":{"type":"rule","color":"#44546A","strokeWidth":2},
 "encoding":{
  "x":{"field":"x1","type":"quantitative"},
  "y":{"field":"y1","type":"quantitative"},
  "x2":{"field":"x2"},
  "y2":{"field":"y2"}
 }},
{"data":{"name":"diag"},
 "mark":{"type":"point","shape":"M0,0L-0.85,2L0.85,2Z","size":240,"filled":true,"color":"#44546A","opacity":1,"strokeWidth":0,"angle":318},
 "encoding":{
  "x":{"field":"x2","type":"quantitative"},
  "y":{"field":"y2","type":"quantitative"}
 }},
{"data":{"name":"nums"},
 "mark":{"type":"text","font":"Noto Sans","fontSize":48,"color":"#44546A","align":"center","baseline":"middle"},
 "encoding":{
  "x":{"field":"x","type":"quantitative"},
  "y":{"field":"y","type":"quantitative"},
  "text":{"field":"label"}
 }},
{"data":{"name":"notes"},
 "mark":{"type":"text","font":"Noto Sans CJK SC","fontSize":29,"color":"#44546A","align":"left","baseline":"middle"},
 "encoding":{
  "x":{"field":"x","type":"quantitative"},
  "y":{"field":"y","type":"quantitative"},
  "text":{"field":"label"}
 }}
]
}
